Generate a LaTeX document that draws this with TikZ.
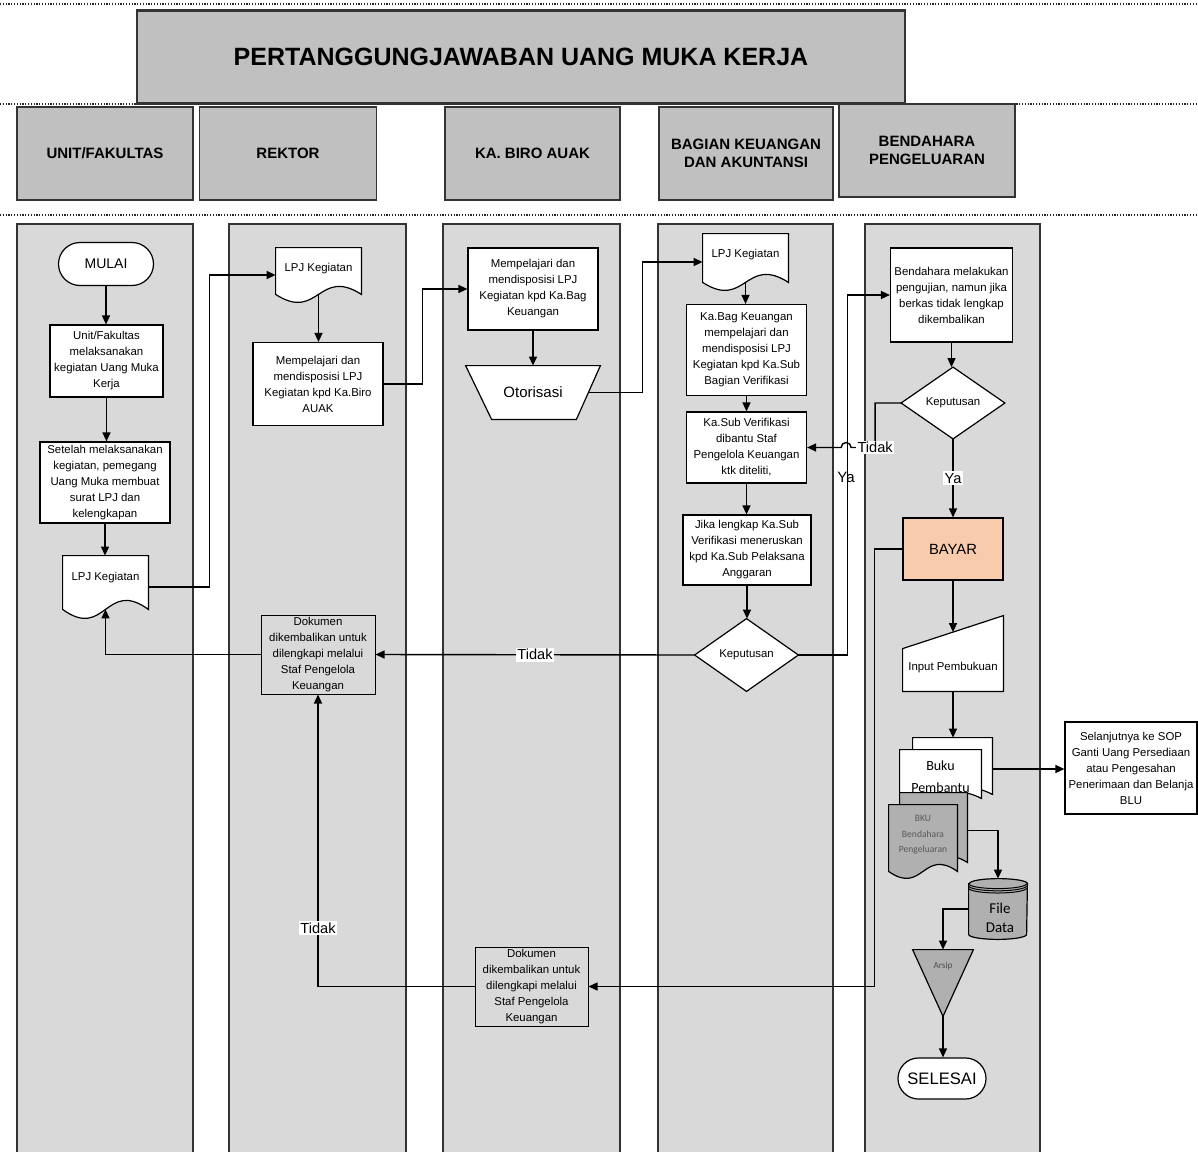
\documentclass[tikz,border=0pt]{standalone}
\usepackage{fontspec}
\setmainfont{Liberation Sans}
\newfontfamily\calib{Carlito}
\usetikzlibrary{arrows.meta,calc}
\definecolor{hdr}{HTML}{C0C0C0}
\definecolor{lane}{HTML}{D9D9D9}
\definecolor{edge}{HTML}{333333}
\definecolor{bayarc}{HTML}{F8CBAD}
\definecolor{store}{HTML}{B0B0B0}
\pgfdeclarelayer{lanes}
\pgfdeclarelayer{shapes}
\pgfsetlayers{lanes,shapes,main}
\tikzset{
  sz/.style 2 args={minimum width=#1*0.5pt, minimum height=#2*0.5pt},
  txt/.style={font=\fontsize{5.7}{8}\selectfont, align=center, inner sep=0pt},
  pbox/.style={txt, draw=black, fill=white, line width=0.6pt, shape=rectangle},
  gbox/.style={pbox, fill=lane, line width=0.5pt},
  hbox/.style={draw=edge, fill=hdr, line width=0.9pt, font=\fontsize{7.5}{9}\selectfont\bfseries, align=center, inner sep=0pt},
  ghost/.style={txt, shape=rectangle},
  outl/.style={draw=black, line width=0.6pt, fill=white},
  arr/.style={draw=black, line width=0.7pt, -{Triangle[length=4.5pt,width=4pt]}},
  lbl/.style={font=\fontsize{7.3}{8}\selectfont, fill=white, inner sep=0.8pt},
  dots/.style={draw=black!85, line width=0.9pt, dash pattern=on 0.55pt off 0.85pt},
  lanebox/.style={draw=edge, fill=lane, line width=0.8pt},
}
\newcommand{\docshape}[3][white]{%
  \draw[outl, fill=#1] (#2.north west) -- (#2.north east) -- ([yshift=#3*0.5pt]#2.south east)
    .. controls ([yshift=#3*2.23pt]#2.south) and ([yshift=-#3*1.23pt]#2.south) .. ([yshift=#3*0.5pt]#2.south west) -- cycle;}
\begin{document}
\begin{tikzpicture}[x=0.5pt,y=-0.5pt]
\useasboundingbox (0,0) rectangle (1198,1151);

% ---------- background: dotted rules, lanes ----------
\begin{pgfonlayer}{lanes}
  \draw[dots] (0,4) -- (1198,4);
  \draw[dots] (0,104) -- (1198,104);
  \draw[dots] (0,215) -- (1198,215);
  \draw[lanebox] (17,224) rectangle (193,1165);
  \draw[lanebox] (229,224) rectangle (406,1165);
  \draw[lanebox] (443,224) rectangle (620,1165);
  \draw[lanebox] (658,224) rectangle (833,1165);
  \draw[lanebox] (865,224) rectangle (1040,1165);
\end{pgfonlayer}

% ---------- title and headers ----------
\node[hbox, line width=1.2pt, sz={768}{93}, font=\fontsize{12.5}{14}\selectfont\bfseries] (title) at (521,57) {PERTANGGUNGJAWABAN UANG MUKA KERJA};
\node[hbox, sz={176}{93}] (h1) at (105,153.5) {UNIT/FAKULTAS};
\node[hbox, sz={177}{93}] (h2) at (288,153.5) {REKTOR};
\node[hbox, sz={175}{93}] (h3) at (532.5,153.5) {KA. BIRO AUAK};
\node[hbox, sz={174}{93}] (h4) at (746,153.5) {BAGIAN KEUANGAN\\DAN AKUNTANSI};
\node[hbox, sz={176}{93}] (h5) at (927,150.5) {BENDAHARA\\PENGELUARAN};

% ---------- lane 1 ----------
\node[pbox, sz={95}{43}, rounded corners=10.75pt, font=\fontsize{7}{8}\selectfont] (mulai) at (106,264) {MULAI};
\node[pbox, sz={113}{72}] (u1) at (106.5,361) {Unit/Fakultas\\melaksanakan\\kegiatan Uang Muka\\Kerja};
\node[pbox, sz={130}{81}] (u2) at (105,482.5) {Setelah melaksanakan\\kegiatan, pemegang\\Uang Muka membuat\\surat LPJ dan\\kelengkapan};
\node[ghost, sz={85}{62}] (udoc) at (105.5,587) {};
\node[txt] (udoct) at (105.5,578) {LPJ Kegiatan};

% ---------- lane 2 ----------
\node[ghost, sz={85}{54}] (rdoc) at (318.5,275) {};
\node[txt] (rdoct) at (318.5,269) {LPJ Kegiatan};
\node[pbox, sz={130}{83}] (r1) at (318,384) {Mempelajari dan\\mendisposisi LPJ\\Kegiatan kpd Ka.Biro\\AUAK};
\node[gbox, sz={114}{79}] (rdokA) at (318,654.5) {Dokumen\\dikembalikan untuk\\dilengkapi melalui\\Staf Pengelola\\Keuangan};

% ---------- lane 3 ----------
\node[pbox, sz={130}{82}] (b1) at (533,289) {Mempelajari dan\\mendisposisi LPJ\\Kegiatan kpd Ka.Bag\\Keuangan};
\node[ghost, sz={134}{53}, font=\fontsize{7.5}{9}\selectfont] (otor) at (533,392.5) {Otorisasi};
\node[gbox, sz={113}{79}] (bdokB) at (531.5,986.5) {Dokumen\\dikembalikan untuk\\dilengkapi melalui\\Staf Pengelola\\Keuangan};

% ---------- lane 4 ----------
\node[ghost, sz={85}{56}] (bdoc) at (745.5,262) {};
\node[txt] (bdoct) at (745.5,255) {LPJ Kegiatan};
\node[pbox, sz={120}{91}] (k1) at (746.5,350) {Ka.Bag Keuangan\\mempelajari dan\\mendisposisi LPJ\\Kegiatan kpd Ka.Sub\\Bagian Verifikasi};
\node[pbox, sz={120}{71}] (k2) at (746.5,447.5) {Ka.Sub Verifikasi\\dibantu Staf\\Pengelola Keuangan\\ktk diteliti,};
\node[pbox, sz={128}{70}] (k3) at (747,550) {Jika lengkap Ka.Sub\\Verifikasi meneruskan\\kpd Ka.Sub Pelaksana\\Anggaran};
\node[ghost, sz={103}{72}] (kep1) at (746.5,655) {Keputusan};

% ---------- lane 5 ----------
\node[pbox, sz={122}{94}] (e1) at (951.5,295) {Bendahara melakukan\\pengujian, namun jika\\berkas tidak lengkap\\dikembalikan};
\node[ghost, sz={103}{71}] (kep2) at (953,403) {Keputusan};
\node[pbox, sz={100}{62}, fill=bayarc, font=\fontsize{7.4}{9}\selectfont] (bayar) at (953,549) {BAYAR};
\node[ghost, sz={100}{75}] (inp) at (953,653.5) {};
\node[txt] (inpt) at (953,668) {Input Pembukuan};
\node[ghost, sz={79}{62}] (bukub) at (952.5,769) {};
\node[ghost, sz={81}{54}, font=\calib\fontsize{7}{11}\selectfont] (buku) at (940.5,777) {Buku\\Pembantu};
\node[ghost, sz={67}{75}] (bkub) at (933.5,830.5) {};
\node[ghost, sz={68}{73}] (bku) at (923,841.5) {};
\node[txt, font=\calib\fontsize{4.8}{7.8}\selectfont, text=black!65] (bkut) at (923,835) {BKU\\Bendahara\\Pengeluaran};
\node[ghost, sz={58}{60}] (fd) at (998,909) {};
\node[txt, font=\calib\fontsize{7.5}{9.5}\selectfont] (fdt) at (1000,918) {File\\Data};
\node[ghost, sz={60}{66}] (arsip) at (943,983) {};
\node[txt, font=\calib\fontsize{4.6}{6}\selectfont, text=black!70] (arsipt) at (943,966) {Arsip};
\node[pbox, sz={88}{41}, rounded corners=10.25pt, font=\fontsize{8.3}{9}\selectfont] (selesai) at (942,1078.5) {SELESAI};
\node[pbox, sz={132}{92}] (sel) at (1131,768) {Selanjutnya ke SOP\\Ganti Uang Persediaan\\atau Pengesahan\\Penerimaan dan Belanja\\BLU};

% ---------- special outlines ----------
\begin{pgfonlayer}{shapes}
  \docshape{udoc}{9}
  \docshape{rdoc}{8}
  \docshape{bdoc}{8}
  \draw[outl] (otor.north west) -- (otor.north east) -- ([xshift=-12pt]otor.south east) -- ([xshift=13pt]otor.south west) -- cycle;
  \draw[outl] (kep1.north) -- (kep1.east) -- (kep1.south) -- (kep1.west) -- cycle;
  \draw[outl] (kep2.north) -- (kep2.east) -- (kep2.south) -- (kep2.west) -- cycle;
  \draw[outl] ([yshift=-16.5pt]inp.north west) -- (inp.north east) -- (inp.south east) -- (inp.south west) -- cycle;
  \docshape{bukub}{6}
  \docshape{buku}{6}
  \docshape[store]{bkub}{6}
  \docshape[store]{bku}{7}
  \draw[outl, fill=store] ([yshift=-2.5pt]fd.north west) -- ([yshift=2.5pt]fd.south west)
     arc[start angle=180, end angle=360, x radius=14.5pt, y radius=2.5pt]
     -- ([yshift=-2.5pt]fd.north east)
     arc[start angle=0, end angle=180, x radius=14.5pt, y radius=2.5pt] -- cycle;
  \draw[line width=0.5pt] ([yshift=-2.5pt]fd.north west) arc[start angle=180, end angle=360, x radius=14.5pt, y radius=2.5pt];
  \draw[line width=0.5pt] ([yshift=-3.6pt]fd.north west) arc[start angle=180, end angle=360, x radius=14.5pt, y radius=2.5pt];
  \draw[line width=0.5pt] ([yshift=-4.7pt]fd.north west) arc[start angle=180, end angle=360, x radius=14.5pt, y radius=2.5pt];
  \draw[outl, fill=store] (arsip.north west) -- (arsip.north east) -- (arsip.south) -- cycle;
\end{pgfonlayer}

% ---------- connectors ----------
\draw[arr] (mulai.south) -- (mulai.south |- u1.north);
\draw[arr] (u1.south) -- (u1.south |- u2.north);
\draw[arr] (u2.south) -- (u2.south |- udoc.north);
\draw[arr] (udoc.east) -- ++(61,0) |- (rdoc.west);
\draw[arr] ([yshift=4pt]rdoc.south) -- (rdoc.south |- r1.north);
\draw[arr] (r1.east) -- ++(39,0) |- (b1.west);
\draw[arr] (b1.south) -- (b1.south |- otor.north);
\draw[arr] ([xshift=-6pt]otor.east) -- ++(54,0) |- (bdoc.west);
\draw[arr] ([yshift=4pt]bdoc.south) -- (bdoc.south |- k1.north);
\draw[arr] (k1.south) -- (k1.south |- k2.north);
\draw[arr] (k2.south) -- (k2.south |- k3.north);
\draw[arr] (k3.south) -- (k3.south |- kep1.north);
\draw[arr] (kep1.west) -- node[lbl, pos=0.5] {Tidak} (rdokA.east);
\draw[arr] (rdokA.west) -| ([yshift=4.5pt]udoc.south);
\draw[arr] (kep1.east) -- ++(49,0) |- (e1.west);
\node[font=\fontsize{7.5}{8}\selectfont, inner sep=0pt] (ya1) at (846,477) {Ya};
\draw[arr] (e1.south) -- (e1.south |- kep2.north);
\draw[arr] (kep2.south) -- node[lbl, pos=0.5] {Ya} (kep2.south |- bayar.north);
\draw[arr] (kep2.west) -- ++(-26,0) coordinate (tc) -- (tc |- k2.east) node[lbl] {Tidak}
   -- ++(-24,0) arc[start angle=0, end angle=180, radius=2.5pt] -- (k2.east);
\draw[arr] (bayar.south) -- ([yshift=-8.25pt]inp.north);
\draw[arr] (inp.south) -- (inp.south |- bukub.north);
\draw[arr] (bukub.east) -- (bukub.east -| sel.west);
\draw[arr] (bkub.east) -| (fd.north);
\draw[arr] (fd.west) -| (arsip.north);
\draw[arr] (arsip.south) -- (arsip.south |- selesai.north);
\draw[arr] (bayar.west) -- ++(-28,0) |- (bdokB.east);
\draw[arr] (bdokB.west) -| node[lbl, pos=0.6] {Tidak} (rdokA.south);
\end{tikzpicture}
\end{document}
